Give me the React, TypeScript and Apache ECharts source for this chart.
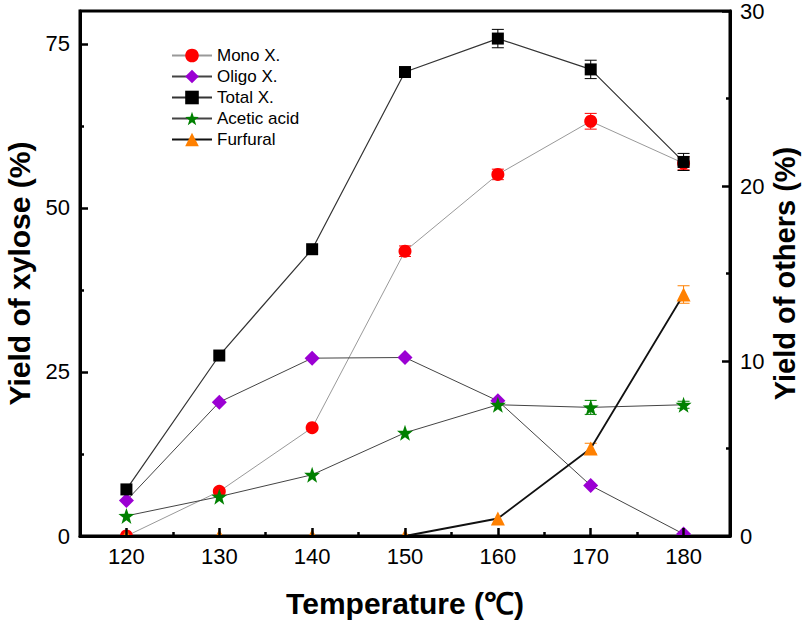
import React, { useEffect, useRef } from "react";
import * as echarts from "echarts";

const temps = [120, 130, 140, 150, 160, 170, 180];
const monoX = [0, 6.8, 16.5, 43.4, 55.1, 63.2, 56.8];
const oligoX = [5.4, 20.4, 27.1, 27.2, 20.6, 7.7, 0.3];
const totalX = [7.1, 27.5, 43.7, 70.7, 75.8, 71.1, 57.0];
const aceticAcid = [1.15, 2.25, 3.5, 5.9, 7.5, 7.35, 7.5];
const furfural = [0, 0, 0, 0, 1.0, 5.0, 13.8];

const monoErr = [0, 0, 0, 0.8, 0.8, 1.2, 1.0];
const totalErr = [0, 0, 0, 0, 1.4, 1.4, 1.3];
const aceticErr = [0, 0, 0, 0, 0, 0.4, 0.2];
const furfuralErr = [0, 0, 0, 0, 0, 0.3, 0.5];

const xMajorTicks = [120, 130, 140, 150, 160, 170, 180];
const xMinorTicks = [125, 135, 145, 155, 165, 175];
const yLeftMajor = [0, 25, 50, 75];
const yLeftMinor = [12.5, 37.5, 62.5];

const FONT = "'Liberation Sans', Arial, sans-serif";
const STAR =
  "path://M0,-10 L2.35,-3.24 L9.51,-3.09 L3.8,1.24 L5.88,8.09 L0,4 L-5.88,8.09 L-3.8,1.24 L-9.51,-3.09 L-2.35,-3.24 Z";

function pairs(vals: number[]) {
  return temps.map((t, i) => [t, vals[i]]);
}

function errData(vals: number[], errs: number[]) {
  return temps
    .map((t, i) => [t, vals[i] - errs[i], vals[i] + errs[i], errs[i]])
    .filter((d) => d[3] > 0);
}

function errSeries(name: string, vals: number[], errs: number[], color: string, yAxisIndex: number) {
  return {
    type: "custom",
    name,
    xAxisIndex: 0,
    yAxisIndex,
    z: 1,
    data: errData(vals, errs),
    encode: { x: 0, y: [1, 2] },
    renderItem: (params: any, api: any) => {
      const x = api.value(0);
      const lo = api.value(1);
      const hi = api.value(2);
      const p1 = api.coord([x, hi]);
      const p2 = api.coord([x, lo]);
      const w = 6;
      const style = { stroke: color, lineWidth: 1 };
      return {
        type: "group",
        children: [
          { type: "line", shape: { x1: p1[0], y1: p1[1], x2: p2[0], y2: p2[1] }, style },
          { type: "line", shape: { x1: p1[0] - w, y1: p1[1], x2: p1[0] + w, y2: p1[1] }, style },
          { type: "line", shape: { x1: p2[0] - w, y1: p2[1], x2: p2[0] + w, y2: p2[1] }, style },
        ],
      };
    },
  };
}

export default function App() {
  const ref = useRef<HTMLDivElement>(null);

  useEffect(() => {
    if (!ref.current) return;
    const chart = echarts.init(ref.current, undefined, { renderer: "svg" });
    const axisLine = { show: true, lineStyle: { color: "#000", width: 3 } };
    const label = { color: "#000", fontSize: 22, lineHeight: 20, fontFamily: FONT };
    const nameStyle = { color: "#000", fontSize: 30, lineHeight: 30, fontWeight: "bold", fontFamily: FONT };

    chart.setOption({
      animation: false,
      backgroundColor: "#fff",
      grid: {
        left: 80,
        right: 74,
        top: 11,
        bottom: 86,
        show: true,
        borderColor: "#000",
        borderWidth: 3,
        backgroundColor: "transparent",
        containLabel: false,
        outerBoundsMode: "none",
      },
      legend: {
        left: 166,
        top: 42,
        orient: "vertical",
        itemWidth: 40,
        itemHeight: 17,
        itemGap: 4,
        textStyle: { color: "#000", fontSize: 17, fontFamily: FONT },
        data: ["Mono X.", "Oligo X.", "Total X.", "Acetic acid", "Furfural"],
      },
      xAxis: [
        {
          type: "value",
          min: 115,
          max: 185,
          z: 5,
          position: "bottom",
          name: "Temperature (℃)",
          nameLocation: "middle",
          nameGap: 52,
          nameTextStyle: nameStyle,
          axisLine,
          splitLine: { show: false },
          axisTick: { show: true, inside: true, length: 8, lineStyle: { color: "#000", width: 2.5 }, customValues: xMajorTicks },
          axisLabel: { ...label, margin: 10, customValues: xMajorTicks },
        },
        {
          type: "value",
          min: 115,
          max: 185,
          z: 5,
          position: "bottom",
          axisLine: { show: false },
          splitLine: { show: false },
          axisTick: { show: true, inside: true, length: 4, lineStyle: { color: "#000", width: 2.5 }, customValues: xMinorTicks },
          axisLabel: { show: false },
        },
      ],
      yAxis: [
        {
          type: "value",
          min: 0,
          max: 80,
          z: 5,
          position: "left",
          name: "Yield of xylose (%)",
          nameLocation: "middle",
          nameGap: 43,
          nameTextStyle: nameStyle,
          axisLine,
          splitLine: { show: false },
          axisTick: { show: true, inside: true, length: 8, lineStyle: { color: "#000", width: 2.5 }, customValues: yLeftMajor },
          axisLabel: { ...label, margin: 10, customValues: yLeftMajor },
        },
        {
          type: "value",
          min: 0,
          max: 30,
          interval: 10,
          z: 5,
          position: "right",
          name: "Yield of others (%)",
          nameLocation: "middle",
          nameGap: 40,
          nameMoveOverlap: false,
          nameTextStyle: { ...nameStyle, fontSize: 29 },
          axisLine,
          splitLine: { show: false },
          axisTick: { show: true, inside: true, length: 8, lineStyle: { color: "#000", width: 2.5 } },
          minorTick: { show: true, splitNumber: 2, length: 4, lineStyle: { color: "#000", width: 2.5 } },
          axisLabel: { ...label, margin: 10 },
        },
        {
          type: "value",
          min: 0,
          max: 80,
          z: 5,
          position: "left",
          axisLine: { show: false },
          splitLine: { show: false },
          axisTick: { show: true, inside: true, length: 4, lineStyle: { color: "#000", width: 2.5 }, customValues: yLeftMinor },
          axisLabel: { show: false },
        },
      ],
      graphic: [
        {
          type: "rect",
          z: 3,
          shape: { x: 78, y: 538, width: 655, height: 8 },
          style: { fill: "#fff" },
        },
      ],
      series: [
        errSeries("Mono err", monoX, monoErr, "#ff0000", 0),
        errSeries("Total err", totalX, totalErr, "#000", 0),
        errSeries("Acetic err", aceticAcid, aceticErr, "#008000", 1),
        errSeries("Furfural err", furfural, furfuralErr, "#ff8000", 1),
        {
          type: "line",
          name: "Mono X.",
          yAxisIndex: 0,
          data: pairs(monoX),
          symbol: "circle",
          symbolSize: 13,
          itemStyle: { color: "#ff0000" },
          lineStyle: { color: "#999", width: 1 },
          z: 2,
        },
        {
          type: "line",
          name: "Oligo X.",
          yAxisIndex: 0,
          data: pairs(oligoX),
          symbol: "diamond",
          symbolSize: 15,
          itemStyle: { color: "#9b00d3" },
          lineStyle: { color: "#444", width: 1 },
          z: 2,
        },
        {
          type: "line",
          name: "Total X.",
          yAxisIndex: 0,
          data: pairs(totalX),
          symbol: "rect",
          symbolSize: 12,
          itemStyle: { color: "#000" },
          lineStyle: { color: "#333", width: 1.2 },
          z: 2,
        },
        {
          type: "line",
          name: "Acetic acid",
          yAxisIndex: 1,
          data: pairs(aceticAcid),
          symbol: STAR,
          symbolSize: 16,
          itemStyle: { color: "#008000" },
          lineStyle: { color: "#444", width: 1 },
          z: 2,
        },
        {
          type: "line",
          name: "Furfural",
          yAxisIndex: 1,
          data: pairs(furfural),
          symbol: "triangle",
          symbolSize: 14,
          itemStyle: { color: "#ff8000" },
          lineStyle: { color: "#111", width: 1.8 },
          z: 2,
        },
      ],
    });
    return () => chart.dispose();
  }, []);

  return (
    <div
      ref={ref}
      style={{ position: "fixed", left: 0, top: 0, width: 804, height: 622 }}
    />
  );
}
